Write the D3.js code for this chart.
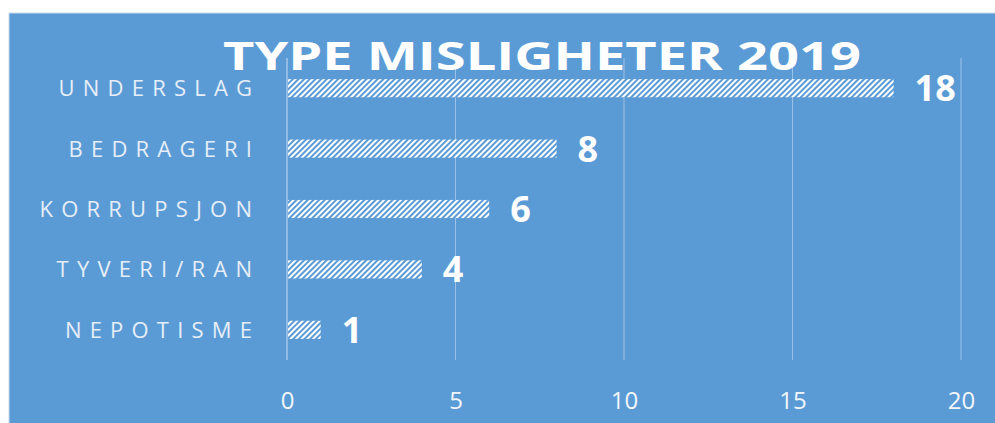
<!DOCTYPE html>
<html>
<head>
<meta charset="utf-8">
<script src="https://cdn.jsdelivr.net/npm/d3@7"></script>
<style>
  body { margin: 0; background: #fff; overflow: hidden; }
  #chart { width: 995px; height: 423px; }
</style>
</head>
<body>
<div id="chart"></div>
<script>
const categories = ["UNDERSLAG", "BEDRAGERI", "KORRUPSJON", "TYVERI/RAN", "NEPOTISME"];
const values = [18, 8, 6, 4, 1];
const ticks = [0, 5, 10, 15, 20];
const title = "TYPE MISLIGHETER 2019";

const width = 995, height = 423;
const margin = { left: 287, right: 34, top: 58, bottom: 63 };
const font = "'Open Sans', 'Noto Sans', sans-serif";

const svg = d3.select("#chart").append("svg")
  .attr("width", width)
  .attr("height", height);

// panel background (runs off the right and bottom edge)
svg.append("rect")
  .attr("x", 9).attr("y", 13)
  .attr("width", width).attr("height", height)
  .attr("fill", "#5b9bd5")
  .attr("stroke", "#c9dbee")
  .attr("stroke-width", 1);

// hatch pattern
const defs = svg.append("defs");
const pat = defs.append("pattern")
  .attr("id", "hatch")
  .attr("patternUnits", "userSpaceOnUse")
  .attr("width", 4).attr("height", 4)
  .attr("patternTransform", "rotate(45)");
pat.append("rect").attr("width", 4).attr("height", 4).attr("fill", "#5b9bd5");
pat.append("rect").attr("width", 2).attr("height", 4).attr("fill", "#ffffff");

const x = d3.scaleLinear()
  .domain([0, 20])
  .range([margin.left, width - margin.right]);

const y = d3.scaleBand()
  .domain(categories)
  .range([margin.top, height - margin.bottom])
  .paddingInner(0.7)
  .paddingOuter(0.35);

// gridlines
svg.append("g")
  .selectAll("line")
  .data(ticks.slice(1))
  .join("line")
  .attr("x1", d => x(d)).attr("x2", d => x(d))
  .attr("y1", margin.top).attr("y2", height - margin.bottom)
  .attr("stroke", "#9dc1e6")
  .attr("stroke-width", 1);

// vertical axis line
svg.append("line")
  .attr("x1", x(0)).attr("x2", x(0))
  .attr("y1", margin.top).attr("y2", height - margin.bottom)
  .attr("stroke", "#b9d3ee")
  .attr("stroke-width", 1.2);

// x axis tick labels
const xAxis = svg.append("g")
  .attr("transform", `translate(0,${height - margin.bottom})`)
  .call(d3.axisBottom(x).tickValues(ticks).tickSize(0).tickPadding(32));
xAxis.select(".domain").remove();
xAxis.selectAll("text")
  .attr("fill", "#f2f6fb")
  .style("font-family", font)
  .style("font-size", "24px");

// bars
svg.append("g")
  .selectAll("rect")
  .data(values)
  .join("rect")
  .attr("x", x(0) + 1)
  .attr("y", (d, i) => y(categories[i]))
  .attr("width", d => x(d) - x(0) - 1)
  .attr("height", y.bandwidth())
  .attr("fill", "url(#hatch)");

// category labels
const spacing = 8.2;
svg.append("g")
  .selectAll("text")
  .data(categories)
  .join("text")
  .attr("x", 252 + spacing)
  .attr("y", d => y(d) + y.bandwidth() / 2)
  .attr("dy", "0.36em")
  .attr("text-anchor", "end")
  .attr("fill", "#e6eef8")
  .style("font-family", font)
  .style("font-size", "22px")
  .style("letter-spacing", spacing + "px")
  .text(d => d);

// value labels
svg.append("g")
  .selectAll("text")
  .data(values)
  .join("text")
  .attr("x", d => x(d) + 21)
  .attr("y", (d, i) => y(categories[i]) + y.bandwidth() / 2)
  .attr("dy", "0.36em")
  .attr("fill", "#ffffff")
  .style("font-family", font)
  .style("font-weight", "bold")
  .style("font-size", "36px")
  .text(d => d);

// title
svg.append("text")
  .attr("x", 542)
  .attr("y", 70)
  .attr("text-anchor", "middle")
  .attr("fill", "#ffffff")
  .attr("textLength", 638)
  .attr("lengthAdjust", "spacingAndGlyphs")
  .style("font-family", font)
  .style("font-weight", "bold")
  .style("font-size", "40px")
  .text(title);
</script>
</body>
</html>
